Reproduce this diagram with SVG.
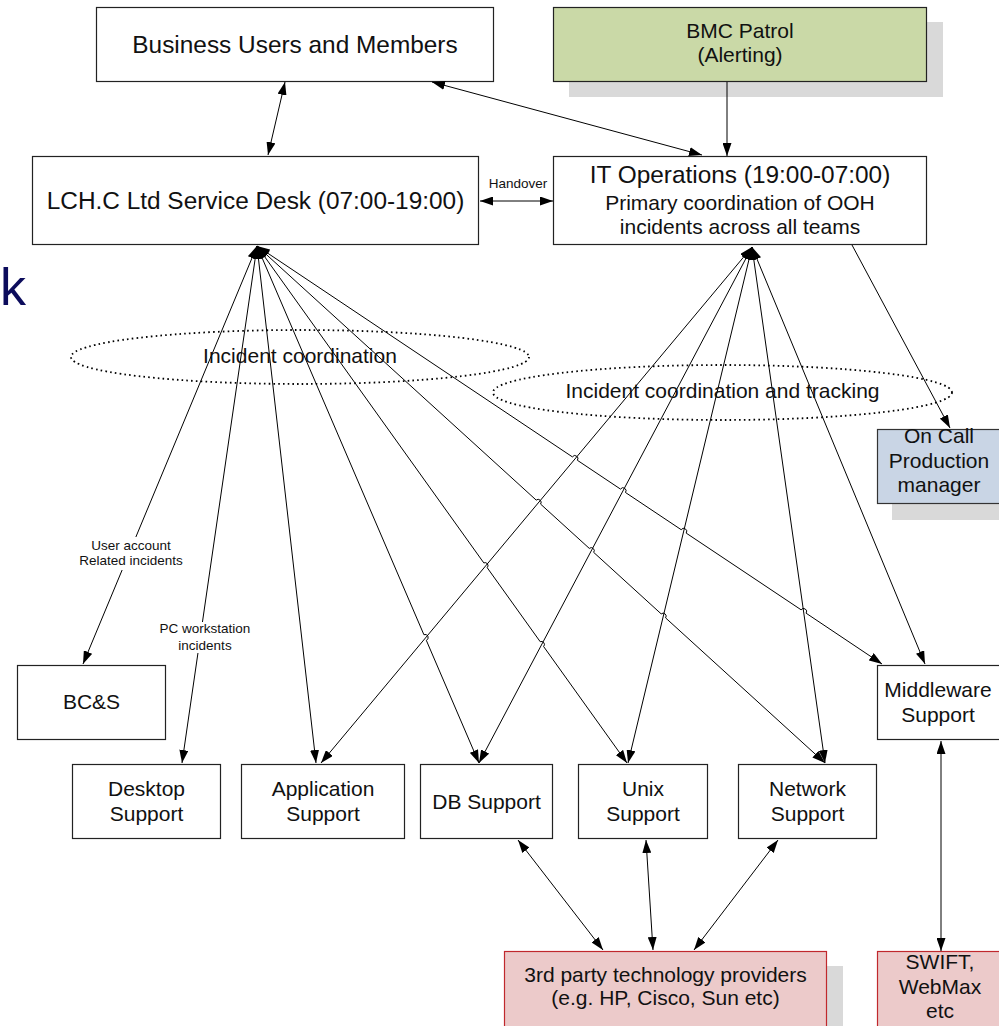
<svg xmlns="http://www.w3.org/2000/svg" width="999" height="1026" viewBox="0 0 999 1026">
<defs>
<marker id="ah" viewBox="0 0 13 9" refX="13" refY="4.5" markerWidth="13" markerHeight="9" markerUnits="userSpaceOnUse" orient="auto-start-reverse"><path d="M0,0L13,4.5L0,9z" fill="#000"/></marker>
<style>
text{font-family:"Liberation Sans",Arial,sans-serif;fill:#111;text-anchor:middle}
.box{fill:#fff;stroke:#222;stroke-width:1.2}
.sh{fill:#d9d9d9}
.big{font-size:24.4px}
.mid{font-size:21px}
.sm{font-size:13.5px}
.c{fill:none;stroke:#000;stroke-width:1}
.two{marker-start:url(#ah);marker-end:url(#ah)}
.one{marker-end:url(#ah)}
.dot{fill:none;stroke:#000;stroke-width:1.8;stroke-dasharray:1.6 3.2}
</style>
</defs>
<rect width="999" height="1026" fill="#fff"/>
<text x="0" y="305" style="font-size:52px;fill:#0c0c5c;text-anchor:start">k</text>

<g id="shadows">
<rect class="sh" x="569" y="22" width="374" height="75"/>
<rect class="sh" x="892" y="444" width="120" height="76"/>
<rect class="sh" x="520" y="966" width="323" height="70"/>
</g>

<g id="n-business"><rect class="box" x="96.5" y="7.5" width="397" height="74"/><text class="big" x="295" y="52.5">Business Users and Members</text></g>
<g id="n-bmc"><rect x="553.5" y="7.5" width="373" height="74" fill="#cad9a7" stroke="#222" stroke-width="1.2"/><text class="mid" x="740" y="37.5">BMC Patrol</text><text class="mid" x="740" y="61.5">(Alerting)</text></g>
<g id="n-lch"><rect class="box" x="32.5" y="156.5" width="446" height="88"/><text class="big" x="255.5" y="208.5">LCH.C Ltd Service Desk (07:00-19:00)</text></g>
<g id="n-itops"><rect class="box" x="553.5" y="156.5" width="373" height="88"/><text class="big" x="740" y="183">IT Operations (19:00-07:00)</text><text class="mid" x="740" y="210">Primary coordination of OOH</text><text class="mid" x="740" y="234">incidents across all teams</text></g>
<g id="n-oncall"><rect x="877.5" y="429.5" width="130" height="74" fill="#c9d5e5" stroke="#333" stroke-width="1.2"/><text class="mid" x="939" y="443">On Call</text><text class="mid" x="939" y="468">Production</text><text class="mid" x="939" y="492">manager</text></g>
<g id="n-bcs"><rect class="box" x="17.5" y="665.5" width="148" height="74"/><text class="mid" x="91.5" y="709">BC&amp;S</text></g>
<g id="n-desktop"><rect class="box" x="72.5" y="764.5" width="148" height="74"/><text class="mid" x="146.5" y="796">Desktop</text><text class="mid" x="146.5" y="821">Support</text></g>
<g id="n-app"><rect class="box" x="241.5" y="764.5" width="163" height="74"/><text class="mid" x="323" y="796">Application</text><text class="mid" x="323" y="821">Support</text></g>
<g id="n-db"><rect class="box" x="420.5" y="764.5" width="132" height="74"/><text class="mid" x="486.5" y="809">DB Support</text></g>
<g id="n-unix"><rect class="box" x="578.5" y="764.5" width="129" height="74"/><text class="mid" x="643" y="796">Unix</text><text class="mid" x="643" y="821">Support</text></g>
<g id="n-network"><rect class="box" x="738.5" y="764.5" width="138" height="74"/><text class="mid" x="807.5" y="796">Network</text><text class="mid" x="807.5" y="821">Support</text></g>
<g id="n-middleware"><rect class="box" x="877.5" y="665.5" width="130" height="74"/><text class="mid" x="938" y="697">Middleware</text><text class="mid" x="938" y="722">Support</text></g>
<g id="n-3rdparty"><rect x="504.5" y="951.5" width="322" height="80" fill="#eccaca" stroke="#c0282d" stroke-width="1.2"/><text class="mid" x="665.5" y="982">3rd party technology providers</text><text class="mid" x="665.5" y="1005">(e.g. HP, Cisco, Sun etc)</text></g>
<g id="n-swift"><rect x="877.5" y="951.5" width="130" height="80" fill="#eccaca" stroke="#c0282d" stroke-width="1.2"/><text class="mid" x="940" y="969">SWIFT,</text><text class="mid" x="940" y="994">WebMax</text><text class="mid" x="940" y="1018">etc</text></g>

<g id="connectors">
<path class="c two" d="M285,82L268,155"/>
<path class="c two" d="M432,82L702,155"/>
<path class="c one" d="M727,82L727,156"/>
<path class="c two" d="M480,201L553,201"/>
<path class="c one" d="M852,245L950,428"/>
<path class="c two" d="M941,741L941,951"/>
<path class="c two" d="M518,840L603,950"/>
<path class="c two" d="M646,840L653,950"/>
<path class="c two" d="M778,840L694,950"/>
<path class="c two" d="M257,246L83,664"/>
<path class="c two" d="M257,246L182,763"/>
<path class="c two" d="M257,246L316,763"/>
<path class="c two" d="M257,246L423.9,634.7A3,3 0 0 1 426.3,640.3L479,763"/>
<path class="c two" d="M257,246L483.8,562.9A3,3 0 0 1 487.2,567.7L540.2,641.7A3,3 0 0 1 543.6,646.5L627,763"/>
<path class="c two" d="M257,246L536.2,500.1A3,3 0 0 1 540.6,504.1L589.3,548.4A3,3 0 0 1 593.7,552.4L661.2,613.9A3,3 0 0 1 665.6,617.9L825,763"/>
<path class="c two" d="M257,246L572.4,456.9A3,3 0 0 1 577.4,460.3L620.5,489.1A3,3 0 0 1 625.5,492.5L681.2,529.7A3,3 0 0 1 686.2,533.1L801.1,609.8A3,3 0 0 1 806.1,613.2L882,664"/>
<path class="c two" d="M752,247L321,763"/>
<path class="c two" d="M752,247L479,763"/>
<path class="c two" d="M752,247L628,763"/>
<path class="c two" d="M752,247L825,763"/>
<path class="c two" d="M752,247L925,664"/>
</g>

<g id="labels">
<text class="sm" x="518" y="188">Handover</text>
<rect x="78" y="537" width="106" height="33" fill="#fff"/>
<text class="sm" x="131" y="550">User account</text>
<text class="sm" x="131" y="565">Related incidents</text>
<rect x="157" y="622" width="96" height="31" fill="#fff"/>
<text class="sm" x="205" y="633">PC workstation</text>
<text class="sm" x="205" y="650">incidents</text>
</g>

<g id="zone-service-desk">
<ellipse class="dot" cx="300" cy="357" rx="229" ry="27"/>
<text class="mid" x="300" y="363">Incident coordination</text>
</g>
<g id="zone-it-ops">
<ellipse class="dot" cx="722.5" cy="392.5" rx="229.5" ry="27.5"/>
<text class="mid" x="722.5" y="398">Incident coordination and tracking</text>
</g>
</svg>
